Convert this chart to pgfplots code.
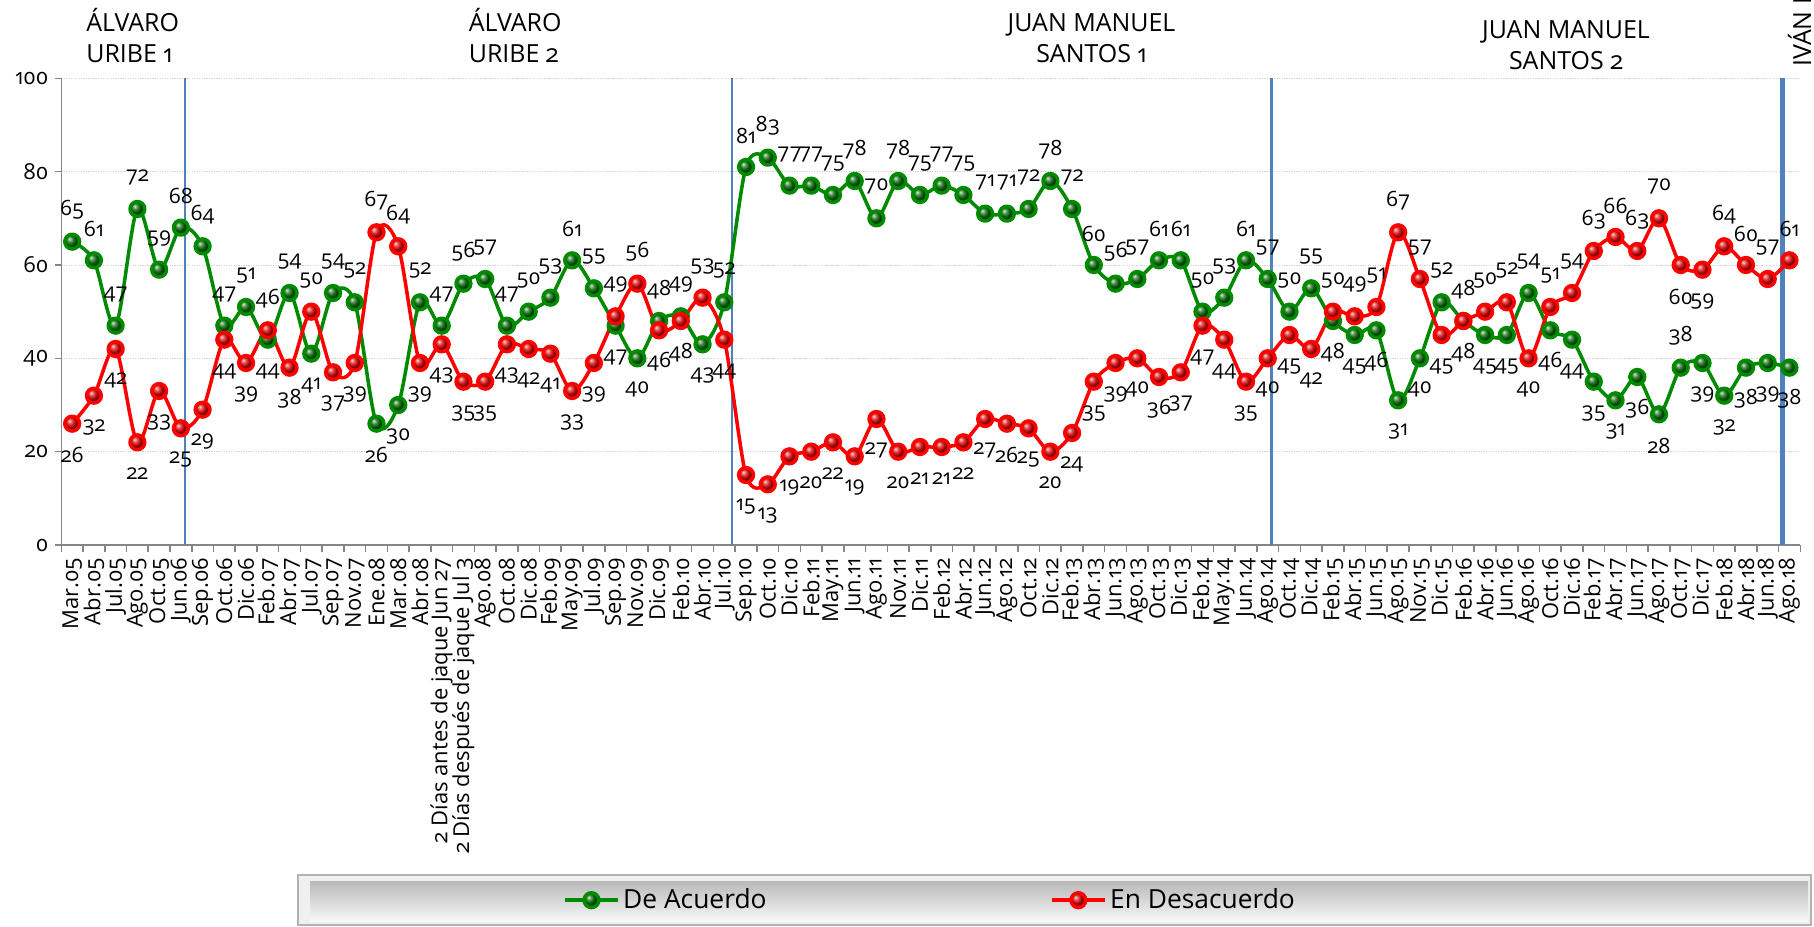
\documentclass[border=0pt]{standalone}
\usepackage{fontspec}
\setmainfont{Open Sans}[Numbers=OldStyle]
\usepackage{pgfplots}
\pgfplotsset{compat=1.18}
\usepackage{pgfplotstable}

\definecolor{verde}{HTML}{008A00}
\definecolor{verdeosc}{HTML}{006A00}
\definecolor{rojo}{HTML}{FF0000}
\definecolor{rojoosc}{HTML}{E00000}
\definecolor{azul}{HTML}{4F81BD}
\definecolor{ejes}{HTML}{868686}

% k = position, g = de acuerdo, r = en desacuerdo, gp/rp = label above (1) or below (-1)
\pgfplotstableread{
k g r gp rp
0 65 26 1 -1
1 61 32 1 -1
2 47 42 1 -1
3 72 22 1 -1
4 59 33 1 -1
5 68 25 1 -1
6 64 29 1 -1
7 47 44 1 -1
8 51 39 1 -1
9 44 46 -1 1
10 54 38 1 -1
11 41 50 -1 1
12 54 37 1 -1
13 52 39 1 -1
14 26 67 -1 1
15 30 64 -1 1
16 52 39 1 -1
17 47 43 1 -1
18 56 35 1 -1
19 57 35 1 -1
20 47 43 1 -1
21 50 42 1 -1
22 53 41 1 -1
23 61 33 1 -1
24 55 39 1 -1
25 47 49 -1 1
26 40 56 -1 1
27 48 46 1 -1
28 49 48 1 -1
29 43 53 -1 1
30 52 44 1 -1
31 81 15 1 -1
32 83 13 1 -1
33 77 19 1 -1
34 77 20 1 -1
35 75 22 1 -1
36 78 19 1 -1
37 70 27 1 -1
38 78 20 1 -1
39 75 21 1 -1
40 77 21 1 -1
41 75 22 1 -1
42 71 27 1 -1
43 71 26 1 -1
44 72 25 1 -1
45 78 20 1 -1
46 72 24 1 -1
47 60 35 1 -1
48 56 39 1 -1
49 57 40 1 -1
50 61 36 1 -1
51 61 37 1 -1
52 50 47 1 -1
53 53 44 1 -1
54 61 35 1 -1
55 57 40 1 -1
56 50 45 1 -1
57 55 42 1 -1
58 48 50 -1 1
59 45 49 -1 1
60 46 51 -1 1
61 31 67 -1 1
62 40 57 -1 1
63 52 45 1 -1
64 48 48 1 -1
65 45 50 -1 1
66 45 52 -1 1
67 54 40 1 -1
68 46 51 -1 1
69 44 54 -1 1
70 35 63 -1 1
71 31 66 -1 1
72 36 63 -1 1
73 28 70 -1 1
74 38 60 1 -1
75 39 59 -1 -1
76 32 64 -1 1
77 38 60 -1 1
78 39 57 -1 1
79 38 61 -1 1
}\datos

\begin{document}
\begin{tikzpicture}
% legend box
\fill[gray!12] (5.96cm,0.02cm) rectangle (36.22cm,1.02cm);
\shade[top color=gray!55, bottom color=gray!6] (6.2cm,0.1cm) rectangle (36.16cm,0.9cm);
\draw[gray!60, line width=0.6pt] (5.96cm,0.02cm) rectangle (36.22cm,1.02cm);

\begin{axis}[
  at={(1.226cm,7.62cm)}, anchor=south west,
  scale only axis, width=34.78cm, height=9.334cm,
  xmin=-0.5, xmax=79.5, ymin=0, ymax=100,
  axis lines*=left,
  axis line style={ejes, line width=0.9pt},
  ytick={0,20,...,100},
  xtick={0,...,79},
  xticklabels={Mar.05,Abr.05,Jul.05,Ago.05,Oct.05,Jun.06,Sep.06,Oct.06,Dic.06,Feb.07,
    Abr.07,Jul.07,Sep.07,Nov.07,Ene.08,Mar.08,Abr.08,2 Días antes de jaque Jun 27,
    2 Días después de jaque Jul 3,Ago.08,Oct.08,Dic.08,Feb.09,May.09,Jul.09,Sep.09,
    Nov.09,Dic.09,Feb.10,Abr.10,Jul.10,Sep.10,Oct.10,Dic.10,Feb.11,May.11,Jun.11,
    Ago.11,Nov.11,Dic.11,Feb.12,Abr.12,Jun.12,Ago.12,Oct.12,Dic.12,Feb.13,Abr.13,
    Jun.13,Ago.13,Oct.13,Dic.13,Feb.14,May.14,Jun.14,Ago.14,Oct.14,Dic.14,Feb.15,
    Abr.15,Jun.15,Ago.15,Nov.15,Dic.15,Feb.16,Abr.16,Jun.16,Ago.16,Oct.16,Dic.16,
    Feb.17,Abr.17,Jun.17,Ago.17,Oct.17,Dic.17,Feb.18,Abr.18,Jun.18,Ago.18},
  minor xtick={-0.5,0.5,...,79.5},
  tick align=outside,
  major tick length=1.34mm, minor tick length=1.4mm,
  major x tick style={draw=none},
  minor x tick style={ejes, line width=0.9pt},
  ytick style={ejes, line width=0.9pt},
  ymajorgrids,
  major grid style={gray!35, dash pattern=on 0.7pt off 0.7pt, line width=0.5pt},
  x tick label style={rotate=90, anchor=east, font=\fontsize{12.5}{14}\selectfont},
  y tick label style={font=\fontsize{12.5}{14}\selectfont},
  /pgf/number format/assume math mode=true,
  clip=false,
  legend columns=2,
  legend style={at={(axis description cs:0.500,-0.761)}, anchor=center,
    draw=none, fill=none, font=\fontsize{15}{17}\selectfont,
    /tikz/every even column/.append style={column sep=5.6cm}},
  legend image code/.code={\draw[mark repeat=2,mark phase=2,#1]
    plot coordinates {(0cm,0cm) (0.53cm,0cm) (1.06cm,0cm)};},
]
\addplot[azul, line width=1.4pt, forget plot] coordinates {(5.2,0) (5.2,100)};
\addplot[azul, line width=1.4pt, forget plot] coordinates {(30.36,0) (30.36,100)};
\addplot[azul, line width=1.4pt, forget plot] coordinates {(55.18,0) (55.18,100)};
\addplot[azul, line width=2.8pt, forget plot] coordinates {(78.7,0) (78.7,100)};

\addplot[verde, line width=2pt, smooth, line join=round,
  mark=ball, mark size=4.2pt, mark options={ball color=verdeosc},
  nodes near coords,
  visualization depends on={\thisrow{gp} \as \lblpos},
  every node near coord/.append style={font=\fontsize{12}{14}\selectfont, black,
    anchor=center, yshift={ifthenelse(\lblpos>0,6.3,-6.3)*1mm}},
] table[x=k, y=g] {\datos};
\addlegendentry{De Acuerdo}

\addplot[rojo, line width=2pt, smooth, line join=round,
  mark=ball, mark size=4.2pt, mark options={ball color=rojoosc},
  nodes near coords,
  visualization depends on={\thisrow{rp} \as \lblpos},
  every node near coord/.append style={font=\fontsize{12}{14}\selectfont, black,
    anchor=center, yshift={ifthenelse(\lblpos>0,6.3,-6.3)*1mm}},
] table[x=k, y=r] {\datos};
\addlegendentry{En Desacuerdo}
\end{axis}

% period labels
\begin{scope}[every node/.style={inner sep=0pt, font=\fontsize{14.2}{17}\selectfont}]
\node[anchor=base west] at (1.72cm,17.88cm) {ÁLVARO};
\node[anchor=base west] at (1.72cm,17.26cm) {URIBE 1};
\node[anchor=base west] at (9.37cm,17.88cm) {ÁLVARO};
\node[anchor=base west] at (9.37cm,17.26cm) {URIBE 2};
\node[anchor=base] at (21.83cm,17.88cm) {JUAN MANUEL};
\node[anchor=base] at (21.83cm,17.26cm) {SANTOS 1};
\node[anchor=base] at (31.32cm,17.75cm) {JUAN MANUEL};
\node[anchor=base] at (31.32cm,17.12cm) {SANTOS 2};
\node[anchor=base west, rotate=90] at (36.22cm,17.18cm) {IVÁN DUQUE};
\end{scope}

\pgfresetboundingbox
\path[use as bounding box] (0,0) rectangle (36.28cm,18.52cm);
\end{tikzpicture}
\end{document}
